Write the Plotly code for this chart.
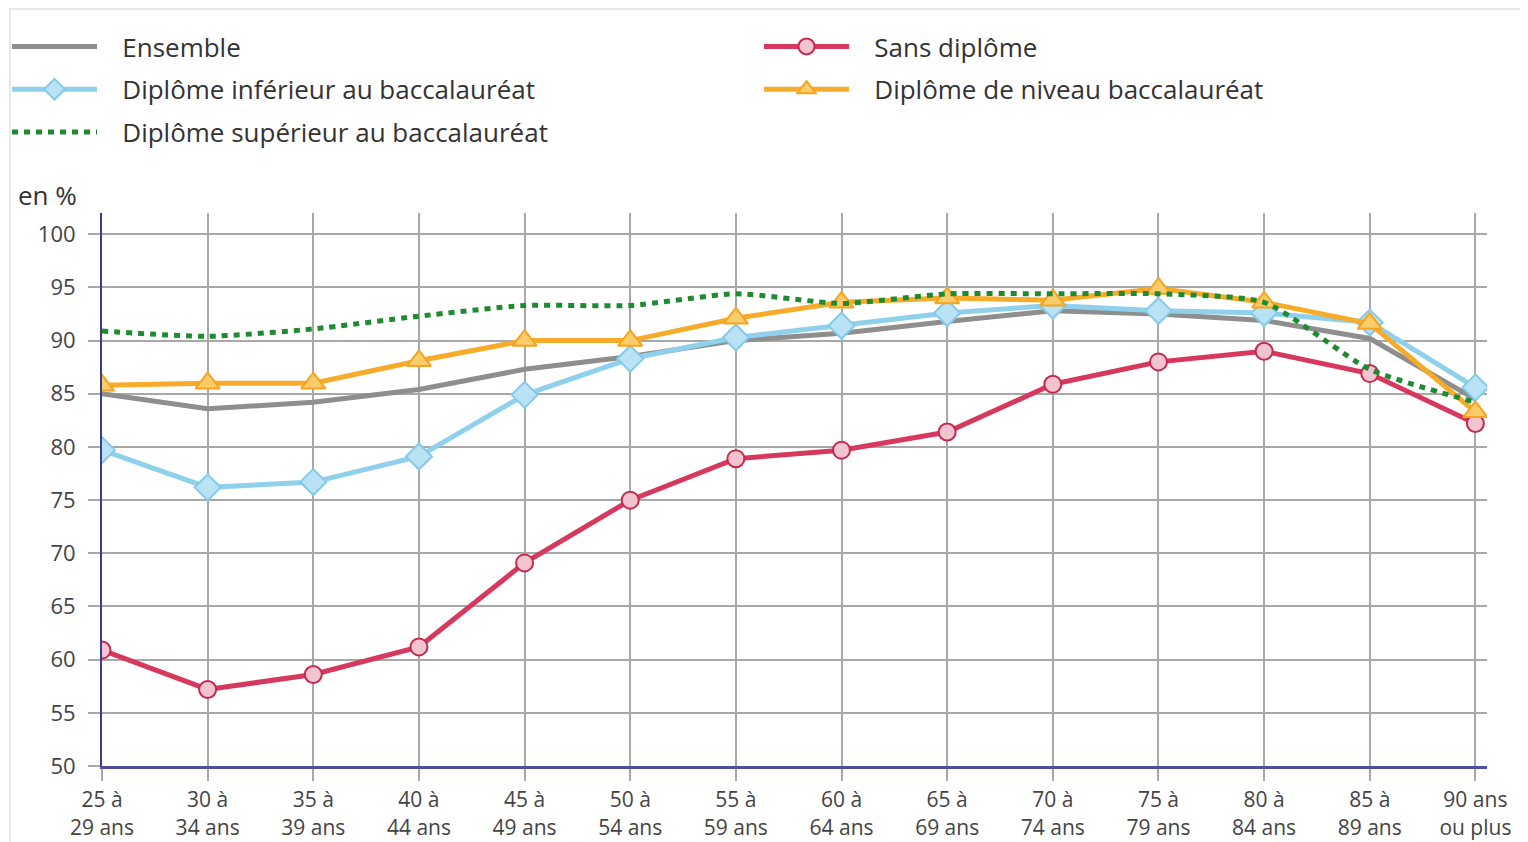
import plotly.graph_objects as go

categories = ["25 à<br>29 ans", "30 à<br>34 ans", "35 à<br>39 ans", "40 à<br>44 ans",
              "45 à<br>49 ans", "50 à<br>54 ans", "55 à<br>59 ans", "60 à<br>64 ans",
              "65 à<br>69 ans", "70 à<br>74 ans", "75 à<br>79 ans", "80 à<br>84 ans",
              "85 à<br>89 ans", "90 ans<br>ou plus"]

ensemble = [85.0, 83.6, 84.2, 85.4, 87.3, 88.5, 90.0, 90.7, 91.8, 92.8, 92.5, 91.9, 90.2, 84.5]
sans_diplome = [60.9, 57.2, 58.6, 61.2, 69.1, 75.0, 78.9, 79.7, 81.4, 85.9, 88.0, 89.0, 86.9, 82.2]
inferieur_bac = [79.7, 76.2, 76.7, 79.1, 84.9, 88.3, 90.3, 91.4, 92.6, 93.3, 92.8, 92.6, 91.7, 85.6]
niveau_bac = [85.8, 86.0, 86.0, 88.1, 90.0, 90.0, 92.1, 93.6, 94.0, 93.8, 94.9, 93.6, 91.6, 83.3]
superieur_bac = [90.9, 90.4, 91.1, 92.3, 93.3, 93.3, 94.4, 93.5, 94.4, 94.4, 94.4, 93.6, 87.3, 84.2]

y_ticks = [50, 55, 60, 65, 70, 75, 80, 85, 90, 95, 100]

# The page body adds an 8px margin around the figure, so the figure is drawn
# 8px smaller and all layout targets are given in screen pixels minus that offset.
OFF = 8
W, H = 1528 - OFF, 842 - OFF
L, T = 102 - OFF, 213 - OFF
R = W - (1487 - OFF)
B = H - (766 - OFF)
pw, ph = W - L - R, H - T - B


def px_x(p):
    return (p - OFF - L) / pw


def px_y(p):
    return (H - B - (p - OFF)) / ph


PAD = "\u00a0\u00a0\u00a0"

fig = go.Figure()

fig.add_trace(go.Scatter(
    x=categories, y=ensemble, name=PAD + "Ensemble", mode="lines",
    legend="legend", legendgroup="g1",
    line=dict(color="#8e8e8e", width=5)))
fig.add_trace(go.Scatter(
    x=categories, y=sans_diplome, name=PAD + "Sans diplôme", mode="lines+markers",
    legend="legend2", legendgroup="g2",
    line=dict(color="#d7385e", width=5),
    marker=dict(symbol="circle", size=17, color="#f2c4cf",
                line=dict(color="#c42a4e", width=2))))
fig.add_trace(go.Scatter(
    x=categories, y=inferieur_bac, name=PAD + "Diplôme inférieur au baccalauréat",
    mode="lines+markers", legend="legend", legendgroup="g3",
    line=dict(color="#8fd0ec", width=5),
    marker=dict(symbol="diamond", size=20, color="#b9e2f5",
                line=dict(color="#86c9e8", width=2))))
fig.add_trace(go.Scatter(
    x=categories, y=niveau_bac, name=PAD + "Diplôme de niveau baccalauréat",
    mode="lines+markers", legend="legend2", legendgroup="g4",
    line=dict(color="#f7ab2a", width=5),
    marker=dict(symbol="triangle-up", size=21, color="#fbcc6a",
                line=dict(color="#f5a41f", width=2))))
fig.add_trace(go.Scatter(
    x=categories, y=superieur_bac, name=PAD + "Diplôme supérieur au baccalauréat",
    mode="lines", legend="legend", legendgroup="g5",
    line=dict(color="#1f8a30", width=5, dash="6px,6px", shape="spline", smoothing=0.6)))

legend_common = dict(
    orientation="v", xanchor="left", yanchor="top",
    itemwidth=85, tracegroupgap=6,
    font=dict(size=26, color="#333333"), bgcolor="rgba(0,0,0,0)",
    traceorder="grouped", itemclick=False, itemdoubleclick=False)

fig.update_layout(
    width=W, height=H,
    margin=dict(l=L, r=R, t=T, b=B, autoexpand=False),
    paper_bgcolor="white",
    plot_bgcolor="white",
    font=dict(family="Open Sans", color="#333333"),
    showlegend=True,
    legend=dict(x=px_x(7), y=px_y(23), **legend_common),
    legend2=dict(x=px_x(759), y=px_y(23), **legend_common),
    shapes=[dict(type="rect", xref="paper", yref="paper",
                 x0=px_x(10), x1=px_x(1524), y0=px_y(900), y1=px_y(9),
                 fillcolor="rgba(0,0,0,0)", line=dict(width=1.5, color="#e2e2e2"), layer="below")],
    annotations=[dict(text="en %", xref="paper", yref="paper",
                      x=px_x(16), y=px_y(195), xanchor="left", yanchor="middle",
                      showarrow=False, font=dict(size=26, color="#333333"))],
)

fig.update_xaxes(
    type="category", range=[0, 13.11],
    showgrid=True, gridcolor="#a8a8a8", gridwidth=1.5,
    ticks="outside", ticklen=12, tickcolor="#a8a8a8", tickwidth=1.5,
    showline=True, linecolor="#4e4ea2", linewidth=3, ticklabelstandoff=1,
    tickfont=dict(size=21, color="#444444"), zeroline=False)

fig.update_yaxes(
    range=[50, 102], tickvals=y_ticks,
    showgrid=True, gridcolor="#a8a8a8", gridwidth=1.5,
    ticks="outside", ticklen=12, tickcolor="#a8a8a8", tickwidth=1.5,
    showline=True, linecolor="#3c3c8c", linewidth=2, ticklabelstandoff=8,
    tickfont=dict(size=22, color="#444444"), zeroline=False)

fig.write_html("out.html")
